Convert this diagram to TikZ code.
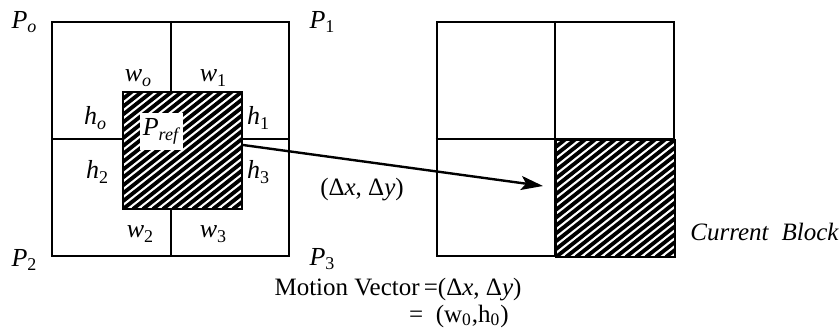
\documentclass[tikz,border=0pt]{standalone}
\usepackage{fontspec}
\setmainfont{Liberation Serif}
\usetikzlibrary{arrows.meta}
\newcommand{\sym}[2]{\textit{#1}\raisebox{-0.4ex}{\fontsize{9}{10}\selectfont #2}}
\tikzset{
  frame/.style={draw, line width=1pt, inner sep=0pt, minimum width=118.5pt, minimum height=117pt},
  grid line/.style={line width=1pt},
  stripes/.style={draw, line width=1pt, fill=white, inner sep=0pt,
    minimum width=59.5pt, minimum height=58.5pt,
    path picture={
      \foreach \k in {-16,...,13}
        \draw[line width=1.9pt] ([xshift=\k*5pt]path picture bounding box.south west) -- ++(80pt,63pt);
    }},
  lbl/.style={font=\fontsize{13}{15}\selectfont, inner sep=1pt},
  txt/.style={font=\fontsize{12.5}{15}\selectfont, inner sep=1pt},
  mv/.style={-{Stealth[length=11pt,width=7pt,inset=2.5pt]}, line width=1.2pt}
}
\begin{document}
\begin{tikzpicture}[x=0.5pt, y=-0.5pt]
  \useasboundingbox (0,0) rectangle (840,331);
  % ===== reference frame (left) =====
  \node[frame] (refframe) at (170.5,139) {};
  \draw[grid line] (refframe.north) -- (refframe.south);
  \draw[grid line] (refframe.west) -- (refframe.east);
  \node[stripes] (ref) at (182.5,150.5) {};
  \node[lbl, fill=white, minimum width=21.5pt, minimum height=18.5pt] (pref) at (161.5,131.5) {\sym{P}{\textit{ref}}};

  % corner labels
  \node[lbl] (po) at (24,22) {\sym{P}{\textit{o}}};
  \node[lbl] (pa) at (322,22) {\sym{P}{1}};
  \node[lbl] (pb) at (24,260) {\sym{P}{2}};
  \node[lbl] (pc) at (322,259) {\sym{P}{3}};

  % overlap widths and heights
  \node[lbl] (wo) at (138,78) {\sym{w}{\textit{o}}};
  \node[lbl] (wa) at (213,78) {\sym{w}{1}};
  \node[lbl] (ho) at (95,118) {\sym{h}{\textit{o}}};
  \node[lbl] (ha) at (258,118) {\sym{h}{1}};
  \node[lbl] (hb) at (97,172) {\sym{h}{2}};
  \node[lbl] (hc) at (258,172) {\sym{h}{3}};
  \node[lbl] (wb) at (140,234) {\sym{w}{2}};
  \node[lbl] (wc) at (213,234) {\sym{w}{3}};

  % ===== current frame (right) =====
  \node[frame] (curframe) at (555,139) {};
  \draw[grid line] (curframe.north) -- (curframe.south);
  \draw[grid line] (curframe.west) -- (curframe.east);
  \node[stripes, anchor=north west] (cur) at (curframe.center) {};
  \node[txt, anchor=west] (curlbl) at (688,232) {\textit{Current}\ \ \textit{Block}};

  % motion vector
  \coordinate (mvtip) at (543,186);
  \draw[mv] ([yshift=2.75pt]ref.east) -- (mvtip);
  \node[txt] (dxy) at (362,190) {(Δ\textit{x}, Δ\textit{y})};

  \node[txt] (mvtext) at (398,290) {Motion Vector\,=(Δ\textit{x}, Δ\textit{y})};
  \node[txt] (mveq) at (459,316) {=\ \ (w\textsubscript{0},h\textsubscript{0})};
\end{tikzpicture}
\end{document}
